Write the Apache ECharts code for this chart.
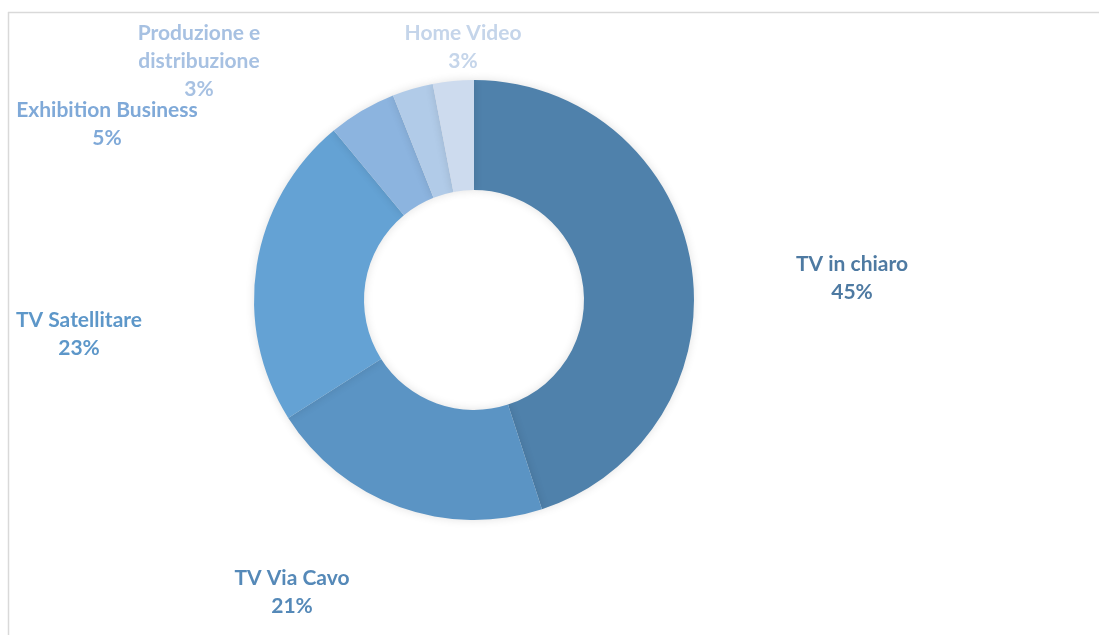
<!DOCTYPE html>
<html>
<head>
<meta charset="utf-8">
<style>
  html, body { margin: 0; padding: 0; background: #ffffff; }
  #chart { width: 1099px; height: 635px; }
</style>
<script src="https://cdn.jsdelivr.net/npm/echarts@6/dist/echarts.min.js"></script>
</head>
<body>
<div id="chart"></div>
<script>
// Ripartizione dei ricavi per segmento (%)
const categories = [
  'TV in chiaro',
  'TV Via Cavo',
  'TV Satellitare',
  'Exhibition Business',
  'Produzione e\ndistribuzione',
  'Home Video'
];
const values = [45, 21, 23, 5, 3, 3];

const sliceColors = ['#4f81ab', '#5b94c4', '#64a2d4', '#8cb4df', '#b1cbe8', '#cddbee'];
const labelColors = ['#4e7aa2', '#5589b8', '#5d97c9', '#7fa9d8', '#a7c1e2', '#c5d5ea'];
// label centres (x, y) for each segment, in drawing order
const labelSpots = [[852, 278], [292, 592], [79, 334], [107, 124], [199, 61], [463, 47]];

const chart = echarts.init(document.getElementById('chart'), null, { renderer: 'canvas' });

chart.setOption({
  animation: false,
  backgroundColor: '#ffffff',
  graphic: [
    { type: 'line', shape: { x1: 8, y1: 12.5, x2: 1099, y2: 12.5 }, style: { stroke: '#d9d9d9', lineWidth: 1.5 } },
    { type: 'line', shape: { x1: 8.5, y1: 12, x2: 8.5, y2: 635 }, style: { stroke: '#d9d9d9', lineWidth: 1.5 } }
  ],
  series: [{
    type: 'pie',
    center: [474, 300],
    radius: [110, 220],
    startAngle: 90,
    clockwise: true,
    avoidLabelOverlap: false,
    itemStyle: {
      shadowBlur: 10,
      shadowColor: 'rgba(0,0,0,0.12)'
    },
    label: {
      show: true,
      position: 'outside',
      formatter: p => p.name + '\n' + Math.round(p.value) + '%',
      fontFamily: 'Lato',
      fontWeight: 'bold',
      fontSize: 21,
      lineHeight: 28,
      align: 'center',
      verticalAlign: 'middle'
    },
    labelLine: { show: false },
    labelLayout: params => {
      const s = labelSpots[params.dataIndex];
      return { x: s[0], y: s[1], align: 'center', verticalAlign: 'middle' };
    },
    emphasis: { disabled: true },
    data: categories.map((name, i) => ({
      name: name,
      value: values[i],
      itemStyle: { color: sliceColors[i] },
      label: { color: labelColors[i] }
    }))
  }]
});
</script>
</body>
</html>
